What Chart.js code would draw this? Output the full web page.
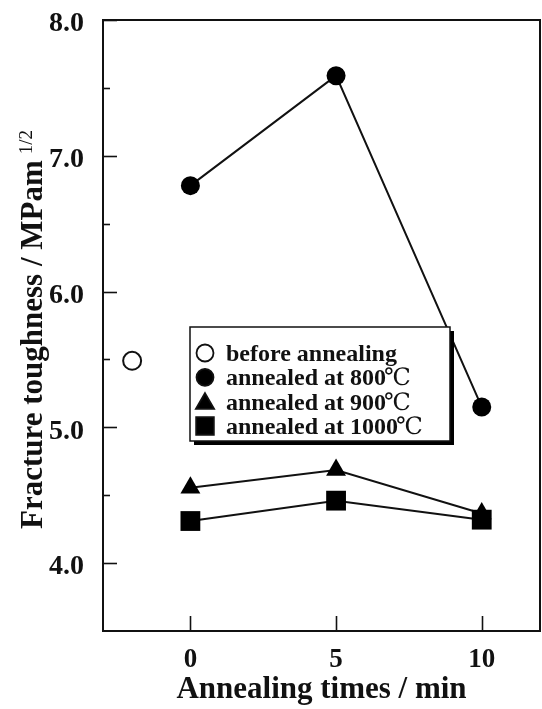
<!DOCTYPE html>
<html>
<head>
<meta charset="utf-8">
<script src="https://cdn.jsdelivr.net/npm/chart.js@4.4.1/dist/chart.umd.min.js"></script>
<style>
  html, body { margin: 0; padding: 0; background: #fff; }
  #wrap { width: 542px; height: 709px; }
</style>
</head>
<body>
<div id="wrap"><canvas id="c" width="542" height="709"></canvas></div>
<script>
// ---- data ----
const beforeTimes = [-2];
const beforeValues = [5.49];
const times = [0, 5, 10];
const values800 = [6.78, 7.59, 5.15];
const values900 = [4.555, 4.685, 4.365];
const values1000 = [4.31, 4.46, 4.32];
const xTickLabels = [0, 5, 10];
const yTickLabels = [4.0, 5.0, 6.0, 7.0, 8.0];
const legendLabels = ['before annealing', 'annealed at 800\u2103', 'annealed at 900\u2103', 'annealed at 1000\u2103'];
const xTitle = 'Annealing times / min';
const yTitle = 'Fracture toughness / MPam';
const yTitleSup = '1/2';

const SERIF = '"Liberation Serif", "DejaVu Serif", serif';

function pts(xs, ys) { return xs.map((x, i) => ({ x: x, y: ys[i] })); }

const framePlugin = {
  id: 'frame',
  afterDraw(chart) {
    const ctx = chart.ctx;
    const a = chart.chartArea;
    const xs = chart.scales.x, ys = chart.scales.y;
    ctx.save();
    ctx.strokeStyle = '#111';
    ctx.lineWidth = 2;
    ctx.strokeRect(a.left, a.top, a.right - a.left, a.bottom - a.top);
    // inward y ticks: major at integers, minor at halves
    ctx.lineWidth = 1.6;
    for (let v = 4.0; v <= 8.0001; v += 0.5) {
      const y = Math.round(ys.getPixelForValue(v)) + 0.5;
      const len = (Math.abs(v - Math.round(v)) < 1e-6) ? 14 : 7;
      ctx.beginPath(); ctx.moveTo(a.left, y); ctx.lineTo(a.left + len, y); ctx.stroke();
    }
    // inward x ticks
    xTickLabels.forEach(v => {
      const x = Math.round(xs.getPixelForValue(v)) + 0.5;
      ctx.beginPath(); ctx.moveTo(x, a.bottom); ctx.lineTo(x, a.bottom - 15); ctx.stroke();
    });

    // y-axis title (rotated, with superscript)
    ctx.fillStyle = '#111';
    ctx.save();
    ctx.translate(42, 529);
    ctx.rotate(-Math.PI / 2);
    ctx.font = 'bold 31px ' + SERIF;
    ctx.textAlign = 'left';
    ctx.textBaseline = 'alphabetic';
    ctx.fillText(yTitle, 0, 0);
    const w = ctx.measureText(yTitle).width;
    ctx.font = '19px ' + SERIF;
    ctx.fillText(yTitleSup, w + 6, -10);
    ctx.restore();

    // legend box
    const bx = 190, by = 327, bw = 260, bh = 114;
    ctx.fillStyle = '#000';
    ctx.fillRect(bx + 4, by + 4, bw, bh);
    ctx.fillStyle = '#fff';
    ctx.fillRect(bx, by, bw, bh);
    ctx.strokeStyle = '#111';
    ctx.lineWidth = 1.5;
    ctx.strokeRect(bx, by, bw, bh);
    const styles = [
      { style: 'circle', r: 8.5, fill: '#fff' },
      { style: 'circle', r: 8.5, fill: '#000' },
      { style: 'triangle', r: 10.5, fill: '#000' },
      { style: 'rect', r: 12.5, fill: '#000' }
    ];
    legendLabels.forEach((lab, i) => {
      const cy = by + 26 + i * 24.3;
      const st = styles[i];
      ctx.fillStyle = st.fill;
      ctx.strokeStyle = '#111';
      ctx.lineWidth = 1.8;
      Chart.helpers.drawPoint(ctx, { pointStyle: st.style, radius: st.r, rotation: 0, borderWidth: 1.8 }, 205, st.style === 'triangle' ? cy + 2 : cy);
      ctx.fillStyle = '#111';
      ctx.textAlign = 'left';
      ctx.textBaseline = 'alphabetic';
      let main = lab, tail = '';
      if (lab.endsWith('\u2103')) { main = lab.slice(0, -1); tail = '\u2103'; }
      ctx.font = 'bold 24px ' + SERIF;
      ctx.fillText(main, 226, cy + 8);
      if (tail) {
        const mw = ctx.measureText(main).width;
        ctx.font = '24px ' + SERIF;
        ctx.fillText(tail, 226 + mw - 2, cy + 8);
      }
    });
    ctx.restore();
  }
};

new Chart(document.getElementById('c'), {
  type: 'scatter',
  data: {
    datasets: [
      { label: legendLabels[3], data: pts(times, values1000), showLine: true, order: 0,
        borderColor: '#111', borderWidth: 2, pointStyle: 'rect', pointRadius: 14,
        pointBackgroundColor: '#000', pointBorderColor: '#000', pointBorderWidth: 0 },
      { label: legendLabels[2], data: pts(times, values900), showLine: true, order: 1,
        borderColor: '#111', borderWidth: 2, pointStyle: 'triangle', pointRadius: 11.5,
        pointBackgroundColor: '#000', pointBorderColor: '#000', pointBorderWidth: 0 },
      { label: legendLabels[1], data: pts(times, values800), showLine: true, order: 2,
        borderColor: '#111', borderWidth: 2, pointStyle: 'circle', pointRadius: 9.5,
        pointBackgroundColor: '#000', pointBorderColor: '#000', pointBorderWidth: 0 },
      { label: legendLabels[0], data: pts(beforeTimes, beforeValues), showLine: false, order: 3,
        pointStyle: 'circle', pointRadius: 9, borderWidth: 2,
        pointBackgroundColor: '#fff', pointBorderColor: '#111', pointBorderWidth: 2 }
    ]
  },
  options: {
    responsive: false,
    animation: false,
    events: [],
    layout: { autoPadding: false, padding: { left: 0, top: 20, right: 2, bottom: 0 } },
    plugins: { legend: { display: false }, tooltip: { enabled: false } },
    scales: {
      x: {
        type: 'linear', min: -3, max: 12,
        afterBuildTicks: s => { s.ticks = xTickLabels.map(v => ({ value: v })); },
        afterFit: s => { s.height = 78; s.paddingLeft = 0; s.paddingRight = 0; },
        grid: { display: false, drawTicks: false },
        border: { display: false },
        ticks: { color: '#111', font: { family: SERIF, size: 27, weight: 'bold' }, padding: 13,
                 callback: v => String(v) },
        title: { display: true, text: xTitle, color: '#111', padding: { top: 0, bottom: 0 },
                 font: { family: SERIF, size: 31, weight: 'bold' } }
      },
      y: {
        type: 'linear', min: 3.5, max: 8.0,
        afterBuildTicks: s => { s.ticks = yTickLabels.map(v => ({ value: v })); },
        afterFit: s => { s.width = 103; s.paddingTop = 0; s.paddingBottom = 0; },
        grid: { display: false, drawTicks: false },
        border: { display: false },
        ticks: { color: '#111', font: { family: SERIF, size: 28, weight: 'bold' }, padding: 19,
                 labelOffset: 4, callback: v => Number(v).toFixed(1) }
      }
    }
  },
  plugins: [framePlugin]
});
</script>
</body>
</html>
